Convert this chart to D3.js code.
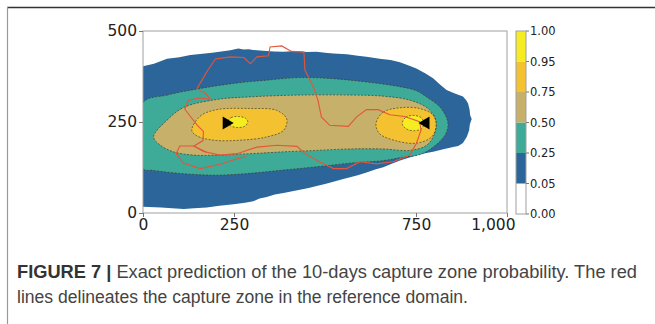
<!DOCTYPE html>
<html><head><meta charset="utf-8">
<script src="https://cdn.jsdelivr.net/npm/d3@7"></script>
<style>body{margin:0;background:#fff}svg{display:block}</style>
</head><body>
<svg id="c" width="655" height="324"></svg>
<script>
// ---------- data (data coordinates, metres) ----------
const xTicks = [0, 250, 750, 1000];
const yTicks = [0, 250, 500];
const levels = [0.00, 0.05, 0.25, 0.50, 0.75, 0.95, 1.00];
const levelColors = ["#ffffff", "#2b659a", "#3eab98", "#c7b06a", "#f4c231", "#f6ec22"];

// probability >= 0.05 (ragged outer edge)
const zone05 = [[0,403],[30,410],[66,424],[100,428],[130,434],[157,437],[190,440],[215,444],[240,447],[262,452],[276,449],[290,450],[303,448],[330,446],[360,444],[386,443],[420,445],[450,442],[477,443],[500,440],[523,438],[560,436],[590,432],[614,429],[650,424],[680,420],[706,414],[730,405],[751,397],[775,384],[797,370],[815,354],[834,338],[855,329],[879,320],[888,310],[893,301],[897,285],[899,268],[903,258],[898,244],[896,227],[890,210],[879,192],[866,184],[852,181],[825,175],[797,168],[775,164],[751,158],[730,152],[706,144],[685,136],[660,126],[640,120],[614,111],[590,104],[569,98],[545,92],[523,86],[500,80],[477,74],[455,69],[431,64],[410,60],[386,55],[362,51],[340,44],[320,40],[303,32],[280,28],[249,24],[210,20],[175,15],[140,13],[112,11],[80,13],[50,15],[0,17]];
// probability >= 0.25
const zone25 = [[0,303],[66,324],[157,342],[249,356],[340,365],[431,372],[523,369],[614,360],[706,347],[751,336],[779,319],[815,292],[834,262],[838,240],[830,214],[806,188],[765,162],[706,152],[660,144],[569,137],[477,127],[386,118],[294,109],[203,104],[112,108],[29,117],[0,122]];
// probability >= 0.50
const zone50 = [[29,209],[66,255],[112,290],[203,312],[294,319],[431,324],[569,324],[660,321],[733,310],[783,287],[804,255],[801,218],[779,186],[733,172],[660,176],[569,176],[477,172],[386,168],[294,163],[203,159],[139,159],[84,168],[48,186]];
// probability >= 0.75 (two lobes)
const zone75a = [[134,227],[157,266],[203,284],[294,287],[367,282],[395,258],[386,227],[340,209],[267,200],[194,200],[148,212]];
const zone75b = [[640,246],[660,277],[706,289],[760,287],[797,269],[806,241],[793,209],[751,192],[697,198],[650,218]];
// probability >= 0.95 (two lobes)
const zone95a = [[232,250],[242,262],[262,265],[282,260],[288,250],[279,238],[258,235],[240,240]];
const zone95b = [[712,246],[722,263],[742,268],[764,262],[772,246],[764,231],[742,226],[722,232]];

// reference-domain capture zone (red lines)
const redMain = [[148,341],[177,391],[199,423],[240,429],[277,427],[295,410],[313,429],[345,432],[349,456],[381,459],[408,444],[442,442],[445,392],[468,346],[481,309],[490,264],[513,241],[564,238],[587,264],[614,284],[646,284],[678,270],[719,265],[760,251],[764,228],[751,191],[733,159],[687,141],[641,135],[596,141],[559,122],[523,122],[486,140],[445,163],[423,183],[368,186],[313,181],[258,163],[212,159],[166,169],[140,184],[165,199],[166,224],[150,240],[132,263],[115,285],[124,309],[153,316],[185,313],[170,330],[148,341]];
const redLoop = [[175,167],[139,184],[101,184],[91,163],[111,137],[157,122],[212,134],[258,149],[284,155]];

// wells (black triangles)
const wells = [{x:234, y:247, dir:1}, {x:772, y:247, dir:-1}];

// ---------- drawing ----------
const svg = d3.select("#c");
const x = d3.scaleLinear().domain([0,1000]).range([143,507]);
const y = d3.scaleLinear().domain([0,500]).range([213,31]);

// figure frame
svg.append("line").attr("x1",7).attr("x2",655).attr("y1",7.5).attr("y2",7.5).attr("stroke","#333").attr("stroke-width",1.5);
svg.append("line").attr("x1",7.5).attr("x2",7.5).attr("y1",7).attr("y2",324).attr("stroke","#999").attr("stroke-width",1.2);

svg.append("clipPath").attr("id","clip").append("rect")
  .attr("x",x(0)).attr("y",y(500)).attr("width",x(1000)-x(0)).attr("height",y(0)-y(500));

const g = svg.append("g").attr("clip-path","url(#clip)");
const smooth = d3.line().x(d=>x(d[0])).y(d=>y(d[1])).curve(d3.curveCatmullRomClosed.alpha(0.5));
const lin = d3.line().x(d=>x(d[0])).y(d=>y(d[1])).curve(d3.curveLinearClosed);

const zones = [
  {pts:zone05, c:levelColors[1], line:lin, dash:false},
  {pts:zone25, c:levelColors[2], line:smooth, dash:true},
  {pts:zone50, c:levelColors[3], line:smooth, dash:true},
  {pts:zone75a, c:levelColors[4], line:smooth, dash:true},
  {pts:zone75b, c:levelColors[4], line:smooth, dash:true},
  {pts:zone95a, c:levelColors[5], line:smooth, dash:true},
  {pts:zone95b, c:levelColors[5], line:smooth, dash:true}
];
zones.forEach(z=>{
  g.append("path").attr("d", z.line(z.pts)).attr("fill", z.c).attr("stroke","none");
});
zones.forEach(z=>{
  if (z.dash) g.append("path").attr("d", z.line(z.pts)).attr("fill","none")
    .attr("stroke","#3a3a2a").attr("stroke-opacity",0.75).attr("stroke-width",0.9).attr("stroke-dasharray","2,1.5");
});

const open = d3.line().x(d=>x(d[0])).y(d=>y(d[1]));
g.append("path").attr("d", open(redMain)).attr("fill","none").attr("stroke","#e5553a").attr("stroke-width",1.1);
g.append("path").attr("d", open(redLoop)).attr("fill","none").attr("stroke","#e5553a").attr("stroke-width",1.1);

wells.forEach(w=>{
  const cx = x(w.x), cy = y(w.y), h = 6.5, len = 11;
  const pts = [[cx + w.dir*len/2, cy],[cx - w.dir*len/2, cy - h],[cx - w.dir*len/2, cy + h]];
  svg.append("path").attr("d", "M"+pts.map(p=>p.join(",")).join("L")+"Z").attr("fill","#000");
});

// plot border
svg.append("rect").attr("x",x(0)).attr("y",y(500)).attr("width",x(1000)-x(0)).attr("height",y(0)-y(500))
  .attr("fill","none").attr("stroke","#a0a0a0").attr("stroke-width",1);

// axes
const tickFont = "DejaVu Sans";
const ax = svg.append("g").attr("transform",`translate(0,${y(0)})`)
  .call(d3.axisBottom(x).tickValues(xTicks).tickFormat(d3.format(",")).tickSize(4).tickPadding(2));
const ay = svg.append("g").attr("transform",`translate(${x(0)},0)`)
  .call(d3.axisLeft(y).tickValues(yTicks).tickSize(4).tickPadding(2));
[ax, ay].forEach(a=>{
  a.select(".domain").remove();
  a.selectAll(".tick line").attr("stroke","#777");
  a.selectAll("text").attr("font-family",tickFont).attr("font-size",15.5).attr("fill","#222");
});
ax.selectAll(".tick text").filter(d=>d===1000).attr("text-anchor","end").attr("dx",8);

// colorbar
const cbX = 516, cbW = 10;
const cy = d3.scaleLinear().domain([0, levels.length-1]).range([214,31]);
const cb = svg.append("g");
levelColors.forEach((c,i)=>{
  cb.append("rect").attr("x",cbX).attr("width",cbW).attr("y",cy(i+1)).attr("height",cy(i)-cy(i+1)).attr("fill",c);
});
cb.append("rect").attr("x",cbX).attr("width",cbW).attr("y",cy(levels.length-1)).attr("height",cy(0)-cy(levels.length-1))
  .attr("fill","none").attr("stroke","#a0a0a0").attr("stroke-width",1);
levels.forEach((v,i)=>{
  cb.append("line").attr("x1",cbX+cbW).attr("x2",cbX+cbW+3).attr("y1",cy(i)).attr("y2",cy(i)).attr("stroke","#777");
  cb.append("text").attr("x",cbX+cbW+4).attr("y",cy(i)).attr("dy","0.35em")
    .attr("font-family",tickFont).attr("font-size",11.5).attr("fill","#222").text(v.toFixed(2));
});

// caption
const capFont = "Liberation Sans, Arial, sans-serif";
const cap = svg.append("text").attr("x",17).attr("y",278).attr("font-family",capFont).attr("font-size",17.5).attr("fill","#333")
  .attr("textLength",620).attr("lengthAdjust","spacingAndGlyphs");
cap.append("tspan").attr("font-weight","bold").text("FIGURE 7 |");
cap.append("tspan").attr("fill","#444").text(" Exact prediction of the 10-days capture zone probability. The red");
svg.append("text").attr("x",17).attr("y",303).attr("font-family",capFont).attr("font-size",17.5).attr("fill","#444")
  .attr("textLength",451).attr("lengthAdjust","spacingAndGlyphs")
  .text("lines delineates the capture zone in the reference domain.");
</script>
</body></html>
